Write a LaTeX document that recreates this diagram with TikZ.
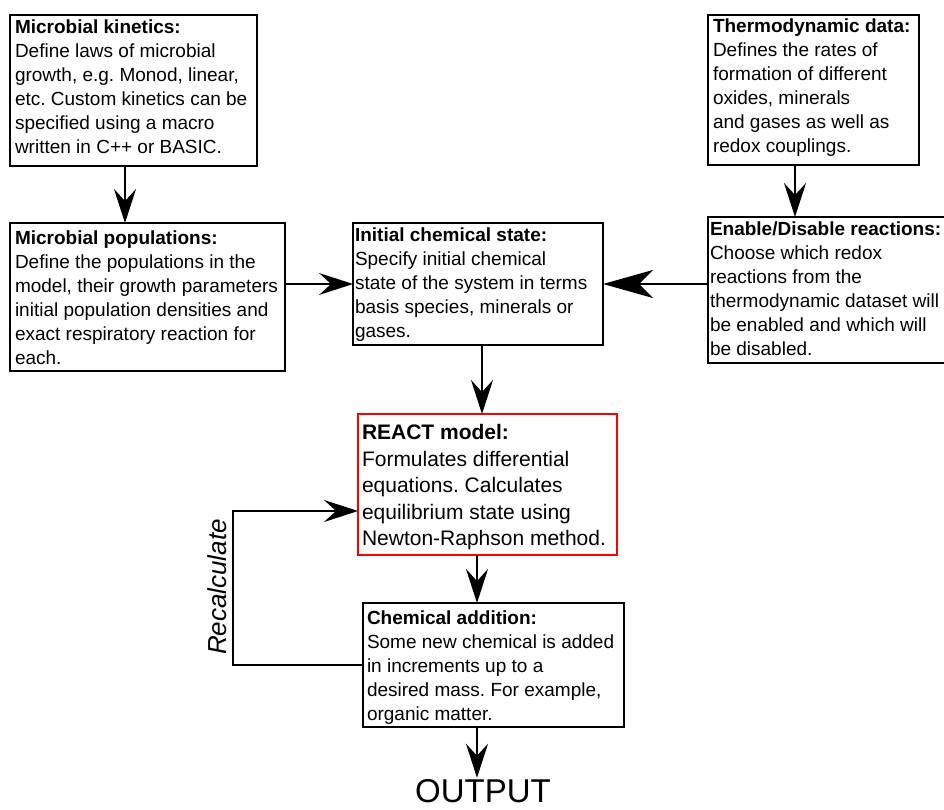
\documentclass[tikz,border=0pt]{standalone}
\usepackage{fontspec}
\setmainfont{Liberation Sans}
\frenchspacing
\usetikzlibrary{arrows.meta,calc}

% Box contents: width, height, top padding, bold title, body lines
\newcommand\flowtext[5]{%
  \begin{minipage}[c][#2][t]{#1}\vspace*{#3}%
    \begin{tabular}[t]{@{}l@{}}\textbf{#4}\\#5\end{tabular}%
  \end{minipage}}

\tikzset{
  flowbox/.style={draw, line width=2.5pt, inner xsep=5pt, inner ysep=0pt,
    outer sep=0pt, anchor=north west, font=\fontsize{19}{24}\selectfont},
  link/.style={line width=2.5pt, -{Stealth[length=34pt,width=22pt,inset=12pt]}},
  biglink/.style={line width=2.5pt, -{Stealth[length=50pt,width=28pt,inset=14pt]}},
}

\begin{document}
\begin{tikzpicture}[x=1pt,y=1pt]
\useasboundingbox (0,0) rectangle (944,-810);

% Input boxes
\node[flowbox] (kin) at (10,-15)
  {\flowtext{237pt}{151pt}{2pt}{Microbial kinetics:}{Define laws of microbial\\growth, e.g. Monod, linear,\\etc. Custom kinetics can be\\specified using a macro\\written in C++ or BASIC.}};
\node[flowbox] (pop) at (10,-223)
  {\flowtext{265pt}{148pt}{4.5pt}{Microbial populations:}{Define the populations in the\\model, their growth parameters\\initial population densities and\\exact respiratory reaction for\\each.}};
\node[flowbox, inner xsep=2pt] (init) at (353,-223)
  {\flowtext{246pt}{122pt}{2pt}{Initial chemical state:}{Specify initial chemical\\state of the system in terms\\basis species, minerals or\\gases.}};
\node[flowbox] (thermo) at (708,-15)
  {\flowtext{201pt}{150pt}{1pt}{Thermodynamic data:}{Defines the rates of\\formation of different\\oxides, minerals\\and gases as well as\\redox couplings.}};
\node[flowbox, inner xsep=2pt] (enable) at (708,-217)
  {\flowtext{234pt}{146pt}{2pt}{Enable/Disable reactions:}{Choose which redox\\reactions from the\\thermodynamic dataset will\\be enabled and which will\\be disabled.}};

% Model and addition steps
\node[flowbox, draw=red, inner xsep=4pt, font=\fontsize{21}{26.5}\selectfont] (react) at (358,-414)
  {\flowtext{251pt}{141pt}{7pt}{REACT model:}{Formulates differential\\equations. Calculates\\equilibrium state using\\Newton-Raphson method.}};
\node[flowbox, inner xsep=4pt] (chem) at (363,-603)
  {\flowtext{253pt}{124pt}{5pt}{Chemical addition:}{Some new chemical is added\\in increments up to a\\desired mass. For example,\\organic matter.}};

\node[font=\fontsize{33}{40}\selectfont, anchor=base, inner sep=1pt] (out) at (483,-802) {OUTPUT};
\node[font=\fontsize{26}{31}\selectfont\itshape, rotate=90, anchor=base] (recalc) at (226,-587) {Recalculate};

% Connectors
\draw[link] ($(kin.south west)+(115,0)$) -- ($(pop.north west)+(115,0)$);
\draw[link] (pop.east |- init.west) -- (init.west);
\draw[biglink] (enable.west |- init.east) -- (init.east);
\draw[link] ($(thermo.south west)+(87,0)$) -- ($(enable.north west)+(87,0)$);
\draw[link] ($(init.south west)+(129,0)$) -- ($(react.north west)+(124,0)$);
\draw[link] ($(react.south west)+(119,0)$) -- ($(chem.north west)+(114,0)$);
\coordinate (chemout) at ($(chem.south west)+(114,0)$);
\draw[link] (chemout) -- (chemout |- out.north);
\coordinate (turn) at (233,-511);
\draw[link] (chem.west) -| (turn) -- (turn -| react.west);
\end{tikzpicture}
\end{document}
